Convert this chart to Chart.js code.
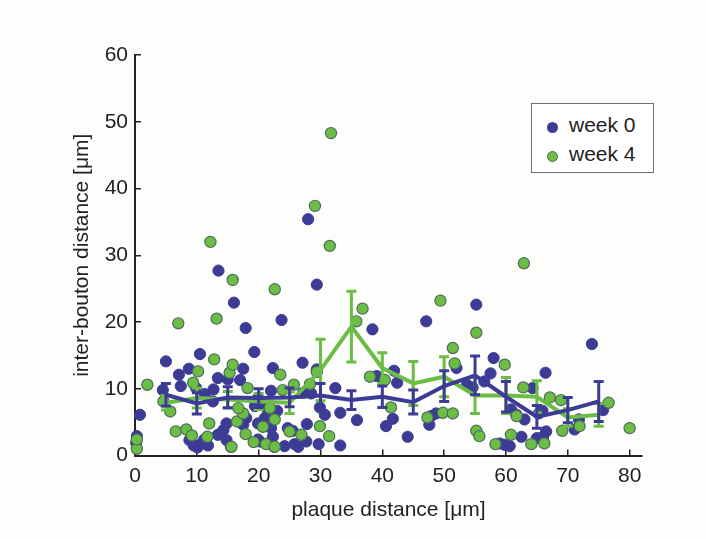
<!DOCTYPE html>
<html>
<head>
<meta charset="utf-8">
<title>inter-bouton distance vs plaque distance</title>
<script src="https://cdn.jsdelivr.net/npm/chart.js@4.4.1/dist/chart.umd.min.js"></script>
<style>
  body { margin: 0; background: #fdfdfb; }
  #wrap { position: relative; width: 706px; height: 539px; }
  #legend {
    position: absolute; left: 531px; top: 103px; width: 121px; height: 68px;
    border: 1px solid #707070; background: #fff;
    font-family: "Liberation Sans", Arial, sans-serif; font-size: 21px; color: #222;
  }
  .item { position: absolute; left: 15px; height: 24px; line-height: 24px; white-space: nowrap; }
  .dot { display: inline-block; width: 11px; height: 11px; border-radius: 50%; vertical-align: -1px; margin-right: 11px; box-sizing: border-box; }
</style>
</head>
<body>
<div id="wrap">
  <canvas id="chart" width="706" height="539"></canvas>
  <div id="legend">
    <div class="item" style="top:9px"><span class="dot" style="background:#3c3c96"></span>week 0</div>
    <div class="item" style="top:38px"><span class="dot" style="background:#6bbd45;border:1px solid #4d6e5a"></span>week 4</div>
  </div>
</div>
<script>
// bins for the mean +/- sem lines
const binX = [5, 10, 15, 20, 25, 30, 35, 40, 45, 50, 55, 60, 65, 70, 75];
const week0Mean = [9.1, 7.8, 8.7, 8.6, 8.7, 9.0, 8.3, 8.8, 8.0, 10.4, 12.0, 8.8, 5.8, 6.8, 8.1];
const week0Sem  = [1.7, 1.6, 1.6, 1.4, 1.4, 1.8, 1.4, 1.6, 1.8, 2.3, 2.9, 2.3, 1.7, 1.9, 3.0];
const week4Mean = [7.9, 8.6, 8.4, 8.1, 7.9, 12.8, 19.3, 13.1, 10.8, 11.8, 9.0, 9.0, 8.8, 5.7, 6.1];
const week4Sem  = [1.1, 1.5, 1.2, 1.2, 1.6, 4.6, 5.3, 2.3, 3.3, 3.0, 2.7, 2.7, 2.4, 1.3, 1.7];

// single boutons, week 0
const week0X = [0.2, 0.3, 0.8, 4.5, 5.0, 7.1, 7.4, 8.7, 10.5, 9.9, 11.3, 12.7, 13.4, 15.0, 17.0, 17.5,
  17.9, 19.3, 16.0, 13.5, 12.6, 8.8, 10.1, 10.6, 11.8, 11.2, 13.4, 14.3, 14.8, 14.8, 15.5, 17.5,
  18.0, 19.9, 19.9, 9.5, 19.4, 20.2, 19.9, 21.0, 21.5, 23.0, 22.0, 22.3, 23.7, 27.1, 29.4, 27.7,
  28.5, 27.2, 29.4, 28.0, 32.4, 29.9, 30.7, 33.2, 35.9, 27.8, 24.7, 25.5, 22.0, 20.2, 22.3, 21.5,
  22.5, 24.2, 25.8, 26.4, 27.7, 29.7, 33.2, 38.4, 39.1, 41.9, 42.4, 41.7, 40.6, 47.1, 47.9, 48.7,
  47.6, 44.1, 52.0, 53.7, 54.6, 56.5, 55.2, 57.5, 58.0, 59.0, 59.8, 60.6, 60.8, 61.7, 63.0, 65.3,
  65.9, 66.4, 66.5, 62.5, 65.0, 66.0, 71.8, 71.1, 73.9, 75.7, 64.3];
const week0Y = [1.9, 2.9, 6.1, 9.8, 14.1, 12.1, 10.4, 13.0, 15.2, 10.1, 9.2, 9.9, 11.6, 11.4, 11.3, 13.0,
  19.1, 15.5, 22.9, 27.7, 8.1, 2.3, 1.2, 1.7, 1.5, 2.4, 3.1, 3.8, 4.8, 2.3, 1.3, 4.6,
  5.6, 4.8, 2.4, 1.5, 7.4, 7.6, 8.6, 5.6, 6.8, 6.7, 9.7, 13.1, 20.3, 13.9, 12.9, 9.6,
  9.3, 9.4, 25.6, 35.4, 10.1, 7.2, 6.1, 6.4, 5.3, 4.7, 4.1, 3.7, 4.1, 2.1, 2.8, 1.8,
  1.3, 1.4, 1.7, 1.3, 2.1, 1.7, 1.5, 18.9, 11.9, 12.7, 10.9, 5.5, 4.4, 20.1, 5.9, 6.3,
  4.6, 2.8, 13.1, 10.6, 10.2, 11.1, 22.6, 12.3, 14.6, 1.8, 1.6, 1.4, 6.9, 6.1, 5.4, 6.3,
  6.7, 12.4, 3.6, 2.8, 2.6, 2.8, 5.4, 3.9, 16.7, 6.8, 10.1];

// single boutons, week 4
const week4X = [0.3, 0.3, 2.0, 4.6, 5.7, 6.6, 7.0, 8.3, 9.2, 9.4, 10.2, 11.7, 12.0, 12.2, 12.8, 13.2,
  15.3, 15.8, 15.8, 15.6, 16.5, 17.5, 16.7, 17.9, 18.2, 19.2, 20.7, 21.2, 21.8, 22.6, 22.6, 22.6,
  23.5, 23.9, 25.7, 25.0, 26.9, 28.3, 29.4, 29.1, 29.9, 31.4, 31.5, 31.7, 35.8, 36.8, 38.0, 40.4,
  41.4, 47.3, 49.8, 51.4, 49.4, 51.4, 51.7, 55.2, 55.2, 55.7, 58.3, 59.8, 60.8, 61.7, 62.8, 62.9,
  64.1, 66.2, 67.1, 68.9, 69.1, 71.9, 76.6, 80.0];
const week4Y = [1.0, 2.4, 10.6, 8.1, 6.6, 3.6, 19.8, 3.9, 3.0, 10.9, 12.6, 2.8, 4.8, 32.0, 14.4, 20.5,
  12.4, 13.6, 26.3, 1.3, 5.1, 6.3, 7.1, 3.2, 10.1, 2.0, 4.3, 1.7, 7.1, 5.4, 1.3, 24.9,
  12.1, 9.8, 10.6, 3.6, 3.1, 10.7, 12.5, 37.4, 4.4, 2.9, 31.4, 48.3, 20.1, 22.0, 11.8, 11.3,
  7.2, 5.7, 6.4, 6.3, 23.2, 16.1, 13.8, 18.4, 3.7, 2.9, 1.7, 13.6, 3.1, 5.9, 10.2, 28.8,
  1.7, 1.8, 8.7, 8.3, 3.7, 4.4, 7.9, 4.1];

const xTicks = [0, 10, 20, 30, 40, 50, 60, 70, 80];
const yTicks = [0, 10, 20, 30, 40, 50, 60];

const blue = '#3c3c96';
const green = '#6bbd45';
const greenEdge = '#4d6e5a';
const ink = '#222222';
const fam = '"Liberation Sans", Arial, sans-serif';

function pts(xs, ys) {
  return xs.map((x, i) => ({x: x, y: ys[i]}));
}

// draws the +/- sem bars right after the mean line they belong to
const errorBars = {
  id: 'errorBars',
  afterDatasetDraw(chart, args) {
    const ds = chart.data.datasets[args.index];
    if (!ds.sem) return;
    const ctx = chart.ctx;
    const xs = chart.scales.x, ys = chart.scales.y;
    ctx.save();
    ctx.strokeStyle = ds.borderColor;
    ctx.lineWidth = 3;
    ds.data.forEach((p, i) => {
      const px = xs.getPixelForValue(p.x);
      const top = ys.getPixelForValue(p.y + ds.sem[i]);
      const bot = ys.getPixelForValue(p.y - ds.sem[i]);
      ctx.beginPath();
      ctx.moveTo(px, top); ctx.lineTo(px, bot);
      ctx.moveTo(px - 5, top); ctx.lineTo(px + 5, top);
      ctx.moveTo(px - 5, bot); ctx.lineTo(px + 5, bot);
      ctx.stroke();
    });
    ctx.restore();
  }
};

new Chart(document.getElementById('chart'), {
  type: 'scatter',
  data: {
    datasets: [
      {type: 'line', label: 'week 0 mean', data: pts(binX, week0Mean), sem: week0Sem,
       borderColor: blue, borderWidth: 4, pointRadius: 0, fill: false, tension: 0},
      {type: 'line', label: 'week 4 mean', data: pts(binX, week4Mean), sem: week4Sem,
       borderColor: green, borderWidth: 4, pointRadius: 0, fill: false, tension: 0},
      {label: 'week 4', data: pts(week4X, week4Y), backgroundColor: green,
       borderColor: greenEdge, borderWidth: 1.2, pointRadius: 5.6, clip: false},
      {label: 'week 0', data: pts(week0X, week0Y), backgroundColor: blue,
       borderColor: blue, borderWidth: 1, pointRadius: 5.6, clip: false}
    ]
  },
  options: {
    responsive: false,
    animation: false,
    devicePixelRatio: 1,
    layout: {padding: {left: 0, top: 55, right: 64, bottom: 0}},
    plugins: {legend: {display: false}, tooltip: {enabled: false}},
    scales: {
      x: {
        type: 'linear', position: 'bottom', min: 0, max: 82,
        afterBuildTicks: s => { s.ticks = xTicks.map(v => ({value: v})); },
        afterFit: s => { s.height = 83.5; },
        ticks: {font: {family: fam, size: 21}, color: ink, padding: 14, maxRotation: 0},
        grid: {drawOnChartArea: false, drawTicks: true, tickLength: -6, color: ink, lineWidth: 1.5},
        border: {display: true, color: ink, width: 2},
        title: {display: true, text: 'plaque distance [μm]', font: {family: fam, size: 21},
                color: ink, padding: {top: 0, bottom: 16}}
      },
      y: {
        type: 'linear', min: 0, max: 60,
        afterBuildTicks: s => { s.ticks = yTicks.map(v => ({value: v})); },
        afterFit: s => { s.width = 135; },
        ticks: {font: {family: fam, size: 21}, color: ink, padding: 13},
        grid: {drawOnChartArea: false, drawTicks: true, tickLength: -6, color: ink, lineWidth: 1.5},
        border: {display: true, color: ink, width: 2},
        title: {display: true, text: 'inter-bouton distance [μm]', font: {family: fam, size: 21},
                color: ink, padding: {top: 70, bottom: 0}}
      }
    }
  },
  plugins: [errorBars]
});
</script>
</body>
</html>
